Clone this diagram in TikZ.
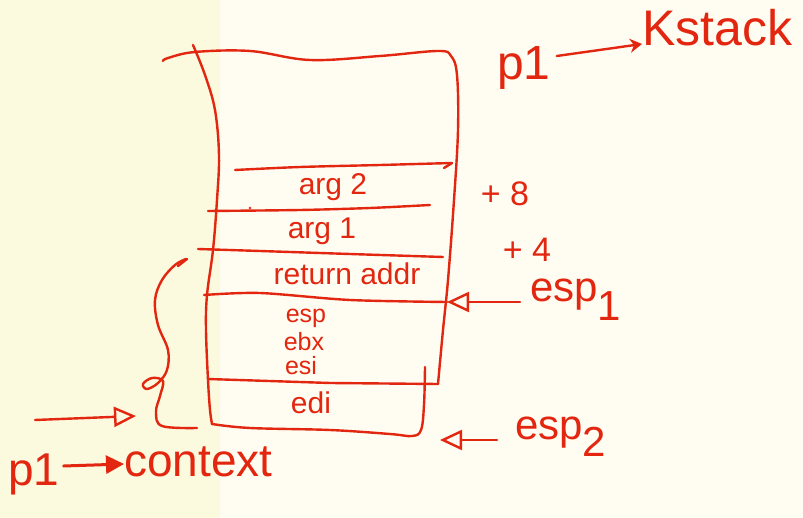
\documentclass[tikz,border=0pt]{standalone}
\usepackage{fontspec}
\setmainfont{Liberation Sans}
\usetikzlibrary{arrows.meta}
\definecolor{inkred}{RGB}{226,38,16}
\definecolor{bgleft}{RGB}{251,249,222}
\definecolor{bgright}{RGB}{255,253,241}
\tikzset{
  ink/.style={draw=inkred, line width=2.4pt, line cap=round, line join=round},
  lbl/.style={text=inkred, inner sep=0pt, font=\fontsize{30}{30}\selectfont},
  smlbl/.style={text=inkred, inner sep=0pt, font=\fontsize{25}{25}\selectfont},
  biglbl/.style={text=inkred, inner sep=0pt, font=\fontsize{42}{42}\selectfont},
  opentip/.style={-{Triangle[open,length=22pt,width=20pt,line width=2.4pt]}},
  filltip/.style={-{Triangle[length=18pt,width=18pt]}}
}
\begin{document}
\begin{tikzpicture}[x=1pt,y=-1pt]
\fill[bgright] (0,0) rectangle (803,518);
\fill[bgleft] (0,0) rectangle (220,518);
\useasboundingbox (0,0) rectangle (803,518);

% stack outline: top and right side
\draw[ink] plot[smooth, tension=0.6] coordinates {(163,61) (168,58) (195,52) (250,51) (310,60) (380,56) (438,51) (451,56) (457,75) (458,130) (454,200) (448,280) (443,330) (438,384)};
\draw[ink] (438,384) -- (330,383) -- (208,379);
% left side
\draw[ink] plot[smooth, tension=0.6] coordinates {(193,45) (205,75) (215,110) (219,155) (217,200) (213,250) (207,295) (206,330) (208,380) (210,410) (212,424)};
% bottom of edi box
\draw[ink] plot[smooth, tension=0.6] coordinates {(212,424) (250,428) (330,430) (390,434) (412,436) (421,430) (424,405) (425,367)};

% separators
\draw[ink] plot[smooth] coordinates {(235,170) (300,167) (380,165) (452,163)};
\draw[ink] (444,168) -- (452,163);
\draw[ink] plot[smooth] coordinates {(208,211) (300,210) (370,208) (430,205)};
\fill[inkred] (250,208) circle (1.3pt);
\draw[ink] plot[smooth] coordinates {(198,249) (260,251) (350,254) (443,257)};
\draw[ink] plot[smooth] coordinates {(204,295) (260,293) (350,300) (447,302)};

% cell texts
\node[lbl] (arg2) at (333,187) {arg 2};
\node[lbl] (arg1) at (322,231) {arg 1};
\node[lbl] (ret) at (347,274) {return addr};
\node[smlbl] (esp) at (306,318) {esp};
\node[smlbl] (ebx) at (304,342) {ebx};
\node[smlbl] (esi) at (301,366) {esi};
\node[lbl] (edi) at (311,403) {edi};

% offsets
\node[lbl, font=\fontsize{34}{34}\selectfont] (p8) at (505,194) {+\ 8};
\node[lbl, font=\fontsize{34}{34}\selectfont] (p4) at (527,250) {+\ 4};

% esp pointers
\node[biglbl, anchor=west] (esp1) at (530,300) {esp\raisebox{-0.45em}{1}};
\node[biglbl, anchor=west] (esp2) at (515,437) {esp\raisebox{-0.4em}{2}};
\coordinate (a1) at (447,302);
\coordinate (a2) at (440,440);
\draw[ink, opentip] (esp1.west) ++(-10,2) coordinate (s1) -- (a1);
\draw[ink, opentip] (497,440) coordinate (s2) -- (a2);

% title
\node[biglbl, anchor=west, font=\fontsize{48}{48}\selectfont] (p1a) at (497,68) {p1};
\node[biglbl, anchor=west, font=\fontsize{50}{50}\selectfont] (kst) at (642,28) {Kstack};
\draw[ink, -{Stealth[length=12pt,width=14pt]}] (p1a.east) ++(6,-12) -- (kst.west |- 0,44);

% brace
\draw[ink] plot[smooth, tension=0.6] coordinates {(186,259) (175,265) (162,280) (155,300) (158,325) (168,350) (167,370) (158,383) (147,389) (143,384) (152,378) (163,381) (160,396) (156,412) (162,426) (197,428)};
\draw[ink] (178,266) -- (187,259);

% p1 -> context
\coordinate (bin) at (35,420);
\coordinate (bout) at (136,416);
\draw[ink, opentip] (bin) -- (bout);
\node[biglbl, anchor=west, font=\fontsize{46}{46}\selectfont] (p1b) at (8,474) {p1};
\node[biglbl, anchor=west, font=\fontsize{46}{46}\selectfont] (ctx) at (124,462) {context};
\draw[ink, line width=3pt, filltip] (p1b.east) ++(4,-8) -- (ctx.west |- 0,464);
\end{tikzpicture}
\end{document}
